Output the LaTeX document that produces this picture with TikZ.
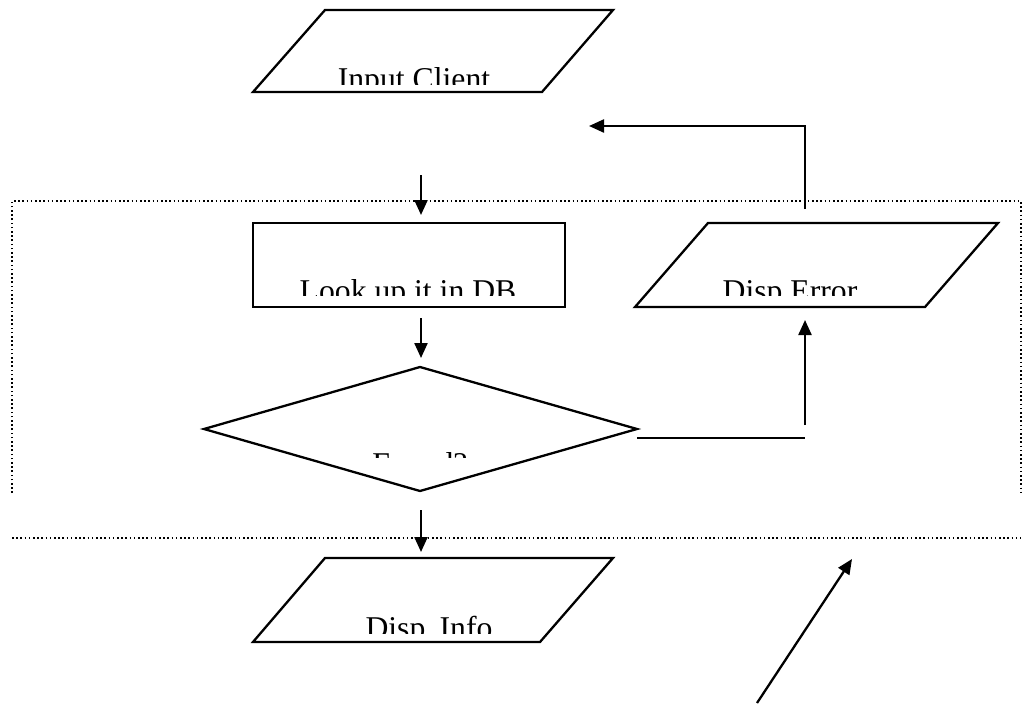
\documentclass[tikz,border=0pt]{standalone}
\usepackage{fontspec}
\setmainfont{Liberation Serif}
\usetikzlibrary{arrows.meta}
\begin{document}
\begin{tikzpicture}[x=1pt,y=-1pt,
  shapeline/.style={line width=2.3pt, line join=miter},
  conn/.style={line width=2.3pt},
  arr/.style={conn,-{Triangle[length=15pt,width=13pt]}},
  dotline/.style={line width=1.7pt, dash pattern=on 1.6pt off 2.6pt},
  lbl/.style={anchor=base, inner sep=0pt, font=\fontsize{31.7}{36}\selectfont}]
\useasboundingbox (0,0) rectangle (1027,707);

% dotted frame
\draw[dotline] (12,538) -- (1021,538);
\draw[dotline] (12,493) -- (12,201) -- (1021,201) -- (1021,493);

% shapes
\draw[shapeline] (325,10) -- (613,10) -- (542,92) -- (253,92) -- cycle;
\draw[shapeline] (253,223) rectangle (565,307);
\draw[shapeline] (708,223) -- (998,223) -- (925,307) -- (635,307) -- cycle;
\draw[shapeline] (420,367) -- (637,429) -- (420,491) -- (204,429) -- cycle;
\draw[shapeline] (325,558) -- (613,558) -- (540,642) -- (253,642) -- cycle;

% clipped labels
\begin{scope}\clip (0,0) rectangle (1027,84);
\node[lbl] (input) at (414,89) {Input Client};
\end{scope}
\begin{scope}\clip (0,0) rectangle (1027,295);
\node[lbl] (lookup) at (408,301) {Look up it in DB};
\node[lbl] (err) at (790,301) {Disp Error};
\end{scope}
\begin{scope}\clip (0,0) rectangle (1027,457);
\node[lbl] (found) at (420,474) {Found?};
\end{scope}
\begin{scope}\clip (0,0) rectangle (1027,633);
\node[lbl] (info) at (429,638) {Disp\hspace{0.45em}Info};
\end{scope}

% connectors
\coordinate (a1s) at (421,175); \coordinate (a1e) at (421,215);
\coordinate (a2s) at (421,318); \coordinate (a2e) at (421,358);
\coordinate (a3s) at (421,510); \coordinate (a3e) at (421,552);
\coordinate (rs) at (805,209); \coordinate (rc) at (805,126); \coordinate (re) at (589,126);
\coordinate (hs) at (637,438); \coordinate (he) at (805,438);
\coordinate (us) at (805,425); \coordinate (ue) at (805,320);
\coordinate (ds) at (757,703); \coordinate (de) at (852,559);

\draw[arr] (a1s) -- (a1e);
\draw[arr] (a2s) -- (a2e);
\draw[arr] (a3s) -- (a3e);
\draw[arr] (rs) -- (rc) -- (re);
\draw[conn] (hs) -- (he);
\draw[arr] (us) -- (ue);
\draw[arr] (ds) -- (de);
\end{tikzpicture}
\end{document}
